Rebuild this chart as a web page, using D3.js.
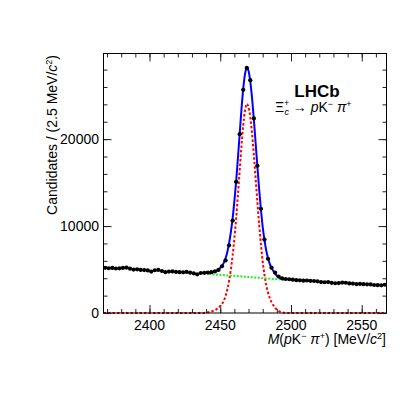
<!DOCTYPE html>
<html>
<head>
<meta charset="utf-8">
<script src="https://cdn.jsdelivr.net/npm/d3@7"></script>
<style>
  body { margin: 0; background: #fff; }
  svg { font-family: "Liberation Sans", Arial, sans-serif; }
</style>
</head>
<body>
<div class="chart"></div>
<script>
// Bins: 80 bins of 2.5 MeV from 2367.5 to 2567.5
var massLo = 2367.5, massHi = 2567.5, binWidth = 2.5;
var binCenters = d3.range(massLo + binWidth / 2, massHi, binWidth);

// Candidates per bin
var counts = [
  5200, 5150, 5180, 5120, 5140, 5180, 5220, 5100, 4990, 5020,
  4960, 4940, 4900, 4760, 4920, 4960, 4830, 4700, 4760, 4780,
  4720, 4700, 4680, 4720, 4640, 4560, 4450, 4600, 4620, 4650,
  4700, 4780, 4950, 5380, 6050, 7780, 10630, 15090, 20570, 25670,
  28190, 26780, 22380, 16930, 11990, 8450, 6240, 5210, 4650, 4200,
  3990, 3910, 3880, 3830, 3780, 3760, 3720, 3740, 3700, 3680,
  3640, 3560, 3540, 3560, 3470, 3420, 3440, 3500, 3480, 3400,
  3390, 3330, 3350, 3310, 3300, 3290, 3220, 3200, 3180, 3250
];

// Signal fit component (red dotted)
var sigMass = [2367.5, 2437.5, 2440, 2442.5, 2445, 2447.5, 2448.75, 2450, 2451.25, 2452.5,
  2453.75, 2455, 2456.25, 2457.5, 2458.75, 2460, 2461.25, 2462.5, 2463.75, 2465,
  2466.25, 2467.5, 2468.75, 2470, 2471.25, 2472.5, 2473.75, 2475, 2476.25, 2477.5,
  2478.75, 2480, 2481.25, 2482.5, 2483.75, 2485, 2486.25, 2487.5, 2488.75, 2490,
  2491.25, 2492.5, 2495, 2497.5, 2567.5];
var sigFit = [0, 0, 40, 120, 250, 450, 600, 800, 1050, 1400,
  1950, 2700, 3700, 5000, 6600, 8600, 10900, 13600, 16400, 19200,
  21600, 23300, 24050, 23700, 22500, 20600, 18200, 15500, 12800, 10200,
  7900, 5900, 4400, 3200, 2350, 1700, 1250, 900, 620, 400,
  240, 130, 30, 0, 0];

// Background fit component (green dotted), linear
var bkgMass = [2442, 2495];
var bkgFit = [4490, 3830];

var yTicks = [0, 10000, 20000];
var xTicks = [2400, 2450, 2500, 2550];

var W = 407, H = 395;
var svg = d3.select('.chart').append('svg')
  .attr('width', W).attr('height', H);

var x = d3.scaleLinear().domain([massLo, massHi]).range([103.5, 386.5]);
var y = d3.scaleLinear().domain([0, 29850]).range([313, 53.5]);
var bkgAt = d3.scaleLinear().domain(bkgMass).range(bkgFit);

// total fit = signal + background over the fitted peak window
var totMass = sigMass.filter(function(m) { return m >= bkgMass[0] && m <= bkgMass[1]; });
totMass = [bkgMass[0]].concat(totMass, [bkgMass[1]]);
var sigInterp = function(m) {
  var i = d3.bisectLeft(sigMass, m);
  if (sigMass[i] === m) return sigFit[i];
  var t = (m - sigMass[i - 1]) / (sigMass[i] - sigMass[i - 1]);
  return sigFit[i - 1] + t * (sigFit[i] - sigFit[i - 1]);
};

var line = d3.line().x(function(d) { return x(d[0]); }).y(function(d) { return y(d[1]); });
var smooth = d3.line().curve(d3.curveMonotoneX)
  .x(function(d) { return x(d[0]); }).y(function(d) { return y(d[1]); });

// axes: ticks point inward, on all four sides
var minorX = d3.range(2370, 2567, 10);
var minorY = d3.range(0, 29850, 2000);
function tickAxis(axis, scale, vals, size, tx, ty) {
  var g = svg.append('g').attr('transform', 'translate(' + tx + ',' + ty + ')')
    .call(axis(scale).tickValues(vals).tickSize(size).tickFormat(''));
  g.select('.domain').remove();
  g.selectAll('line').attr('stroke', '#222');
  return g;
}
tickAxis(d3.axisBottom, x, minorX, -4, 0, 313);
tickAxis(d3.axisBottom, x, xTicks, -8, 0, 313);
tickAxis(d3.axisTop, x, minorX, -4, 0, 53.5);
tickAxis(d3.axisTop, x, xTicks, -8, 0, 53.5);
tickAxis(d3.axisLeft, y, minorY, -4, 103.5, 0);
tickAxis(d3.axisLeft, y, d3.range(0, 29850, 10000), -8, 103.5, 0);
tickAxis(d3.axisRight, y, minorY, -4, 386.5, 0);
tickAxis(d3.axisRight, y, d3.range(0, 29850, 10000), -8, 386.5, 0);

// tick labels
svg.append('g').selectAll('text').data(xTicks).enter().append('text')
  .attr('x', function(d) { return x(d); }).attr('y', 330)
  .attr('text-anchor', 'middle').attr('font-size', 14).text(function(d) { return d; });
svg.append('g').selectAll('text').data(yTicks).enter().append('text')
  .attr('x', 99).attr('y', function(d) { return y(d) + 5; })
  .attr('text-anchor', 'end').attr('font-size', 14).text(function(d) { return d; });

// fit curves
svg.append('path').datum(d3.zip(sigMass, sigFit)).attr('d', smooth)
  .attr('fill', 'none').attr('stroke', '#ff0000').attr('stroke-width', 2)
  .attr('stroke-dasharray', '2.5,2');
svg.append('path').datum(d3.zip(bkgMass, bkgFit)).attr('d', line)
  .attr('fill', 'none').attr('stroke', '#22ee22').attr('stroke-width', 2)
  .attr('stroke-dasharray', '2,1.5');
svg.append('path').datum(totMass.map(function(m) { return [m, sigInterp(m) + bkgAt(m)]; }))
  .attr('d', smooth).attr('fill', 'none').attr('stroke', '#0000ff').attr('stroke-width', 2);

// data points with error bars
var pts = svg.append('g');
pts.selectAll('line.h').data(counts).enter().append('line').attr('class', 'h')
  .attr('x1', function(d, i) { return x(binCenters[i] - binWidth / 2); })
  .attr('x2', function(d, i) { return x(binCenters[i] + binWidth / 2); })
  .attr('y1', function(d) { return y(d); }).attr('y2', function(d) { return y(d); })
  .attr('stroke', '#000').attr('stroke-width', 1.5);
pts.selectAll('line.v').data(counts).enter().append('line').attr('class', 'v')
  .attr('x1', function(d, i) { return x(binCenters[i]); })
  .attr('x2', function(d, i) { return x(binCenters[i]); })
  .attr('y1', function(d) { return y(d + Math.sqrt(d)); })
  .attr('y2', function(d) { return y(d - Math.sqrt(d)); })
  .attr('stroke', '#000').attr('stroke-width', 1);
pts.selectAll('circle').data(counts).enter().append('circle')
  .attr('cx', function(d, i) { return x(binCenters[i]); })
  .attr('cy', function(d) { return y(d); })
  .attr('r', 2.1).attr('fill', '#000');

// frame
svg.append('rect').attr('x', 103.5).attr('y', 53.5).attr('width', 283).attr('height', 259.5)
  .attr('fill', 'none').attr('stroke', '#000').attr('stroke-width', 1);

// axis titles
var xt = svg.append('text').attr('x', 386).attr('y', 344)
  .attr('text-anchor', 'end').attr('font-size', 14);
xt.append('tspan').attr('font-style', 'italic').text('M');
xt.append('tspan').text('(');
xt.append('tspan').attr('font-style', 'italic').text('p');
xt.append('tspan').text('K');
xt.append('tspan').attr('font-size', 9).attr('dy', -5).text('−');
xt.append('tspan').attr('font-style', 'italic').attr('dy', 5).text(' π');
xt.append('tspan').attr('font-size', 9).attr('dy', -5).text('+');
xt.append('tspan').attr('dy', 5).text(') [MeV/');
xt.append('tspan').attr('font-style', 'italic').text('c');
xt.append('tspan').attr('font-size', 9).attr('dy', -5).text('2');
xt.append('tspan').attr('dy', 5).text(']');

var yt = svg.append('text').attr('transform', 'translate(57,55) rotate(-90)')
  .attr('text-anchor', 'end').attr('font-size', 14);
yt.append('tspan').text('Candidates / (2.5 MeV/');
yt.append('tspan').attr('font-style', 'italic').text('c');
yt.append('tspan').attr('font-size', 9).attr('dy', -5).text('2');
yt.append('tspan').attr('dy', 5).text(')');

// LHCb label
svg.append('text').attr('x', 317).attr('y', 97).attr('text-anchor', 'middle')
  .attr('font-size', 17).attr('font-weight', 'bold').text('LHCb');
var dk = svg.append('text').attr('x', 275).attr('y', 112).attr('font-size', 14);
dk.append('tspan').text('Ξ');
dk.append('tspan').attr('font-size', 9).attr('dy', -6).text('+');
dk.append('tspan').attr('font-size', 9).attr('font-style', 'italic').attr('dx', -5).attr('dy', 9).text('c');
dk.append('tspan').attr('dy', -3).text(' → ');
dk.append('tspan').attr('font-style', 'italic').text('p');
dk.append('tspan').text('K');
dk.append('tspan').attr('font-size', 9).attr('dy', -5).text('−');
dk.append('tspan').attr('font-style', 'italic').attr('dy', 5).text(' π');
dk.append('tspan').attr('font-size', 9).attr('dy', -5).text('+');
</script>
</body>
</html>
